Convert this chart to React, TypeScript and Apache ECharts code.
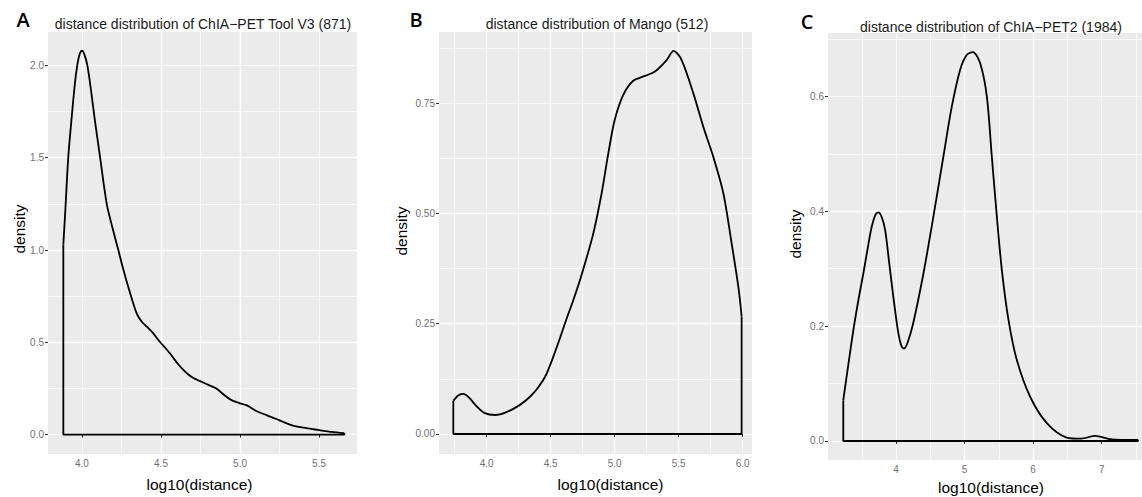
import React, { useEffect, useRef } from "react";
import * as echarts from "echarts";

// ---------- data ----------
const aX = [3.882, 3.895, 3.913, 3.935, 3.955, 3.97, 3.985, 4.0, 4.015, 4.034, 4.058, 4.082, 4.114, 4.156, 4.19, 4.23, 4.26, 4.293, 4.346, 4.38, 4.41, 4.45, 4.483, 4.557, 4.61, 4.663, 4.7, 4.747, 4.8, 4.85, 4.9, 4.94, 5.0, 5.04, 5.1, 5.17, 5.23, 5.27, 5.33, 5.4, 5.5, 5.58, 5.66];
const aY = [1.03, 1.22, 1.5, 1.72, 1.9, 2.0, 2.06, 2.08, 2.06, 2.0, 1.86, 1.7, 1.506, 1.253, 1.13, 1.0, 0.9, 0.8, 0.657, 0.61, 0.585, 0.55, 0.513, 0.44, 0.38, 0.333, 0.31, 0.29, 0.27, 0.25, 0.215, 0.19, 0.17, 0.16, 0.13, 0.105, 0.085, 0.07, 0.05, 0.038, 0.025, 0.015, 0.008];

const bX = [3.739, 3.78, 3.817, 3.86, 3.92, 3.98, 4.065, 4.15, 4.26, 4.34, 4.4, 4.46, 4.52, 4.573, 4.62, 4.677, 4.73, 4.768, 4.833, 4.898, 4.95, 5.0, 5.067, 5.145, 5.237, 5.315, 5.406, 5.46, 5.523, 5.614, 5.692, 5.77, 5.849, 5.914, 5.966, 5.992];
const bY = [0.0755, 0.088, 0.091, 0.083, 0.063, 0.048, 0.043, 0.049, 0.066, 0.085, 0.105, 0.132, 0.175, 0.218, 0.258, 0.304, 0.35, 0.387, 0.455, 0.546, 0.636, 0.712, 0.769, 0.801, 0.812, 0.822, 0.848, 0.869, 0.848, 0.773, 0.697, 0.629, 0.546, 0.432, 0.334, 0.266];

const cX = [3.23, 3.3, 3.377, 3.45, 3.523, 3.6, 3.645, 3.7, 3.742, 3.79, 3.84, 3.9, 3.96, 4.03, 4.08, 4.117, 4.17, 4.25, 4.4, 4.545, 4.69, 4.813, 4.934, 5.03, 5.12, 5.226, 5.324, 5.397, 5.47, 5.543, 5.64, 5.762, 5.956, 6.2, 6.49, 6.7, 6.905, 7.12, 7.3, 7.53];
const cY = [0.071, 0.13, 0.193, 0.245, 0.292, 0.345, 0.373, 0.394, 0.398, 0.39, 0.368, 0.31, 0.251, 0.19, 0.165, 0.161, 0.172, 0.205, 0.292, 0.391, 0.495, 0.582, 0.646, 0.672, 0.677, 0.658, 0.6, 0.495, 0.391, 0.298, 0.211, 0.141, 0.077, 0.031, 0.006, 0.004, 0.009, 0.003, 0.002, 0.002];

const aXTicks = [4.0, 4.5, 5.0, 5.5];
const aYTicks = [0, 0.5, 1.0, 1.5, 2.0];
const bXTicks = [4.0, 4.5, 5.0, 5.5, 6.0];
const bYTicks = [0, 0.25, 0.5, 0.75];
const cXTicks = [4, 5, 6, 7];
const cYTicks = [0, 0.2, 0.4, 0.6];

const titles = [
  "distance distribution of ChIA\u2212PET Tool V3 (871)",
  "distance distribution of Mango (512)",
  "distance distribution of ChIA\u2212PET2 (1984)",
];
const panelLetters = ["A", "B", "C"];
const xTitle = "log10(distance)";
const yTitle = "density";

// ---------- layout ----------
const FONT = "'Liberation Sans', Arial, sans-serif";
const grids = [
  { left: 48, top: 32, width: 309, height: 422 },
  { left: 439, top: 32, width: 313, height: 422 },
  { left: 828, top: 33, width: 314, height: 427 },
];
const panels = [
  { xs: aX, ys: aY, xMin: 3.785, xMax: 5.74, yMin: -0.1045, yMax: 2.181, xMaj: 0.5, xMin2: 0.25, yMaj: 0.5, yMin2: 0.25, xT: aXTicks, yT: aYTicks, xd: 1, yd: 1 },
  { xs: bX, ys: bY, xMin: 3.627, xMax: 6.073, yMin: -0.0454, yMax: 0.9116, xMaj: 0.5, xMin2: 0.25, yMaj: 0.25, yMin2: 0.125, xT: bXTicks, yT: bYTicks, xd: 1, yd: 2 },
  { xs: cX, ys: cY, xMin: 3.007, xMax: 7.588, yMin: -0.0331, yMax: 0.7103, xMaj: 1, xMin2: 0.5, yMaj: 0.2, yMin2: 0.1, xT: cXTicks, yT: cYTicks, xd: 0, yd: 1 },
];
const letterPos = [
  [23, 19],
  [416, 19],
  [807, 21],
];
const titlePos = [
  [203, 24],
  [597, 24],
  [991, 26.5],
];
const xTitlePos = [
  [199.5, 484],
  [610.5, 484],
  [991, 487.5],
];
const yTitlePos = [
  [19, 229],
  [401.5, 231],
  [795, 234],
];

function axisPair(gi: number, min: number, max: number, major: number, minor: number, ticks: number[], digits: number) {
  const base: any = { type: "value", gridIndex: gi, min, max, axisLine: { show: false } };
  const majorAxis = {
    ...base,
    minInterval: major,
    maxInterval: major,
    z: 2,
    axisTick: { show: true, length: 3, lineStyle: { color: "#333", width: 1 }, customValues: ticks },
    axisLabel: {
      show: true,
      color: "#707070",
      fontSize: 10,
      fontFamily: FONT,
      margin: 4,
      customValues: ticks,
      formatter: (v: number) => Number(v).toFixed(digits),
    },
    splitLine: { show: true, showMinLine: false, showMaxLine: false, lineStyle: { color: "#ffffff", width: 1.4 } },
  };
  const minorAxis = {
    ...base,
    minInterval: minor,
    maxInterval: minor,
    z: 1,
    axisTick: { show: false },
    axisLabel: { show: false },
    splitLine: { show: true, showMinLine: false, showMaxLine: false, lineStyle: { color: "#ffffff", width: 0.7 } },
  };
  return [majorAxis, minorAxis];
}

export default function App() {
  const ref = useRef<HTMLDivElement>(null);
  useEffect(() => {
    if (!ref.current) return;
    const chart = echarts.init(ref.current, undefined, { renderer: "svg" });

    const xAxis: any[] = [];
    const yAxis: any[] = [];
    const series: any[] = [];
    const graphic: any[] = [];

    panels.forEach((p, i) => {
      xAxis.push(...axisPair(i, p.xMin, p.xMax, p.xMaj, p.xMin2, p.xT, p.xd));
      yAxis.push(...axisPair(i, p.yMin, p.yMax, p.yMaj, p.yMin2, p.yT, p.yd));
      const curve = p.xs.map((x, k) => [x, p.ys[k]]);
      const n = p.xs.length - 1;
      const outline = [
        [p.xs[0], p.ys[0]],
        [p.xs[0], 0],
        [p.xs[n], 0],
        [p.xs[n], p.ys[n]],
      ];
      series.push({
        type: "line",
        xAxisIndex: 2 * i,
        yAxisIndex: 2 * i,
        data: curve,
        smooth: 0.3,
        showSymbol: false,
        silent: true,
        z: 5,
        lineStyle: { color: "#000", width: 1.8 },
      });
      series.push({
        type: "line",
        xAxisIndex: 2 * i,
        yAxisIndex: 2 * i,
        data: outline,
        smooth: false,
        showSymbol: false,
        silent: true,
        z: 5,
        lineStyle: { color: "#000", width: 1.8 },
      });

      graphic.push({
        type: "text",
        x: letterPos[i][0],
        y: letterPos[i][1],
        style: { text: panelLetters[i], font: `600 20px 'Open Sans', sans-serif`, fill: "#000", textAlign: "center", textVerticalAlign: "middle" },
      });
      graphic.push({
        type: "text",
        x: titlePos[i][0],
        y: titlePos[i][1],
        style: { text: titles[i], font: `14px ${FONT}`, fill: "#1a1a1a", textAlign: "center", textVerticalAlign: "middle" },
      });
      graphic.push({
        type: "text",
        x: xTitlePos[i][0],
        y: xTitlePos[i][1],
        style: { text: xTitle, font: `15.5px ${FONT}`, fill: "#000", textAlign: "center", textVerticalAlign: "middle" },
      });
      graphic.push({
        type: "text",
        x: yTitlePos[i][0],
        y: yTitlePos[i][1],
        rotation: Math.PI / 2,
        style: { text: yTitle, font: `15.5px ${FONT}`, fill: "#000", textAlign: "center", textVerticalAlign: "middle" },
      });
    });

    chart.setOption({
      animation: false,
      backgroundColor: "#ffffff",
      grid: grids.map((g) => ({ ...g, show: true, backgroundColor: "#EBEBEB", borderWidth: 0, containLabel: false })),
      xAxis,
      yAxis,
      series,
      graphic,
    });
    return () => chart.dispose();
  }, []);
  return <div ref={ref} style={{ position: "absolute", left: 0, top: 0, width: 1142, height: 497 }} />;
}
